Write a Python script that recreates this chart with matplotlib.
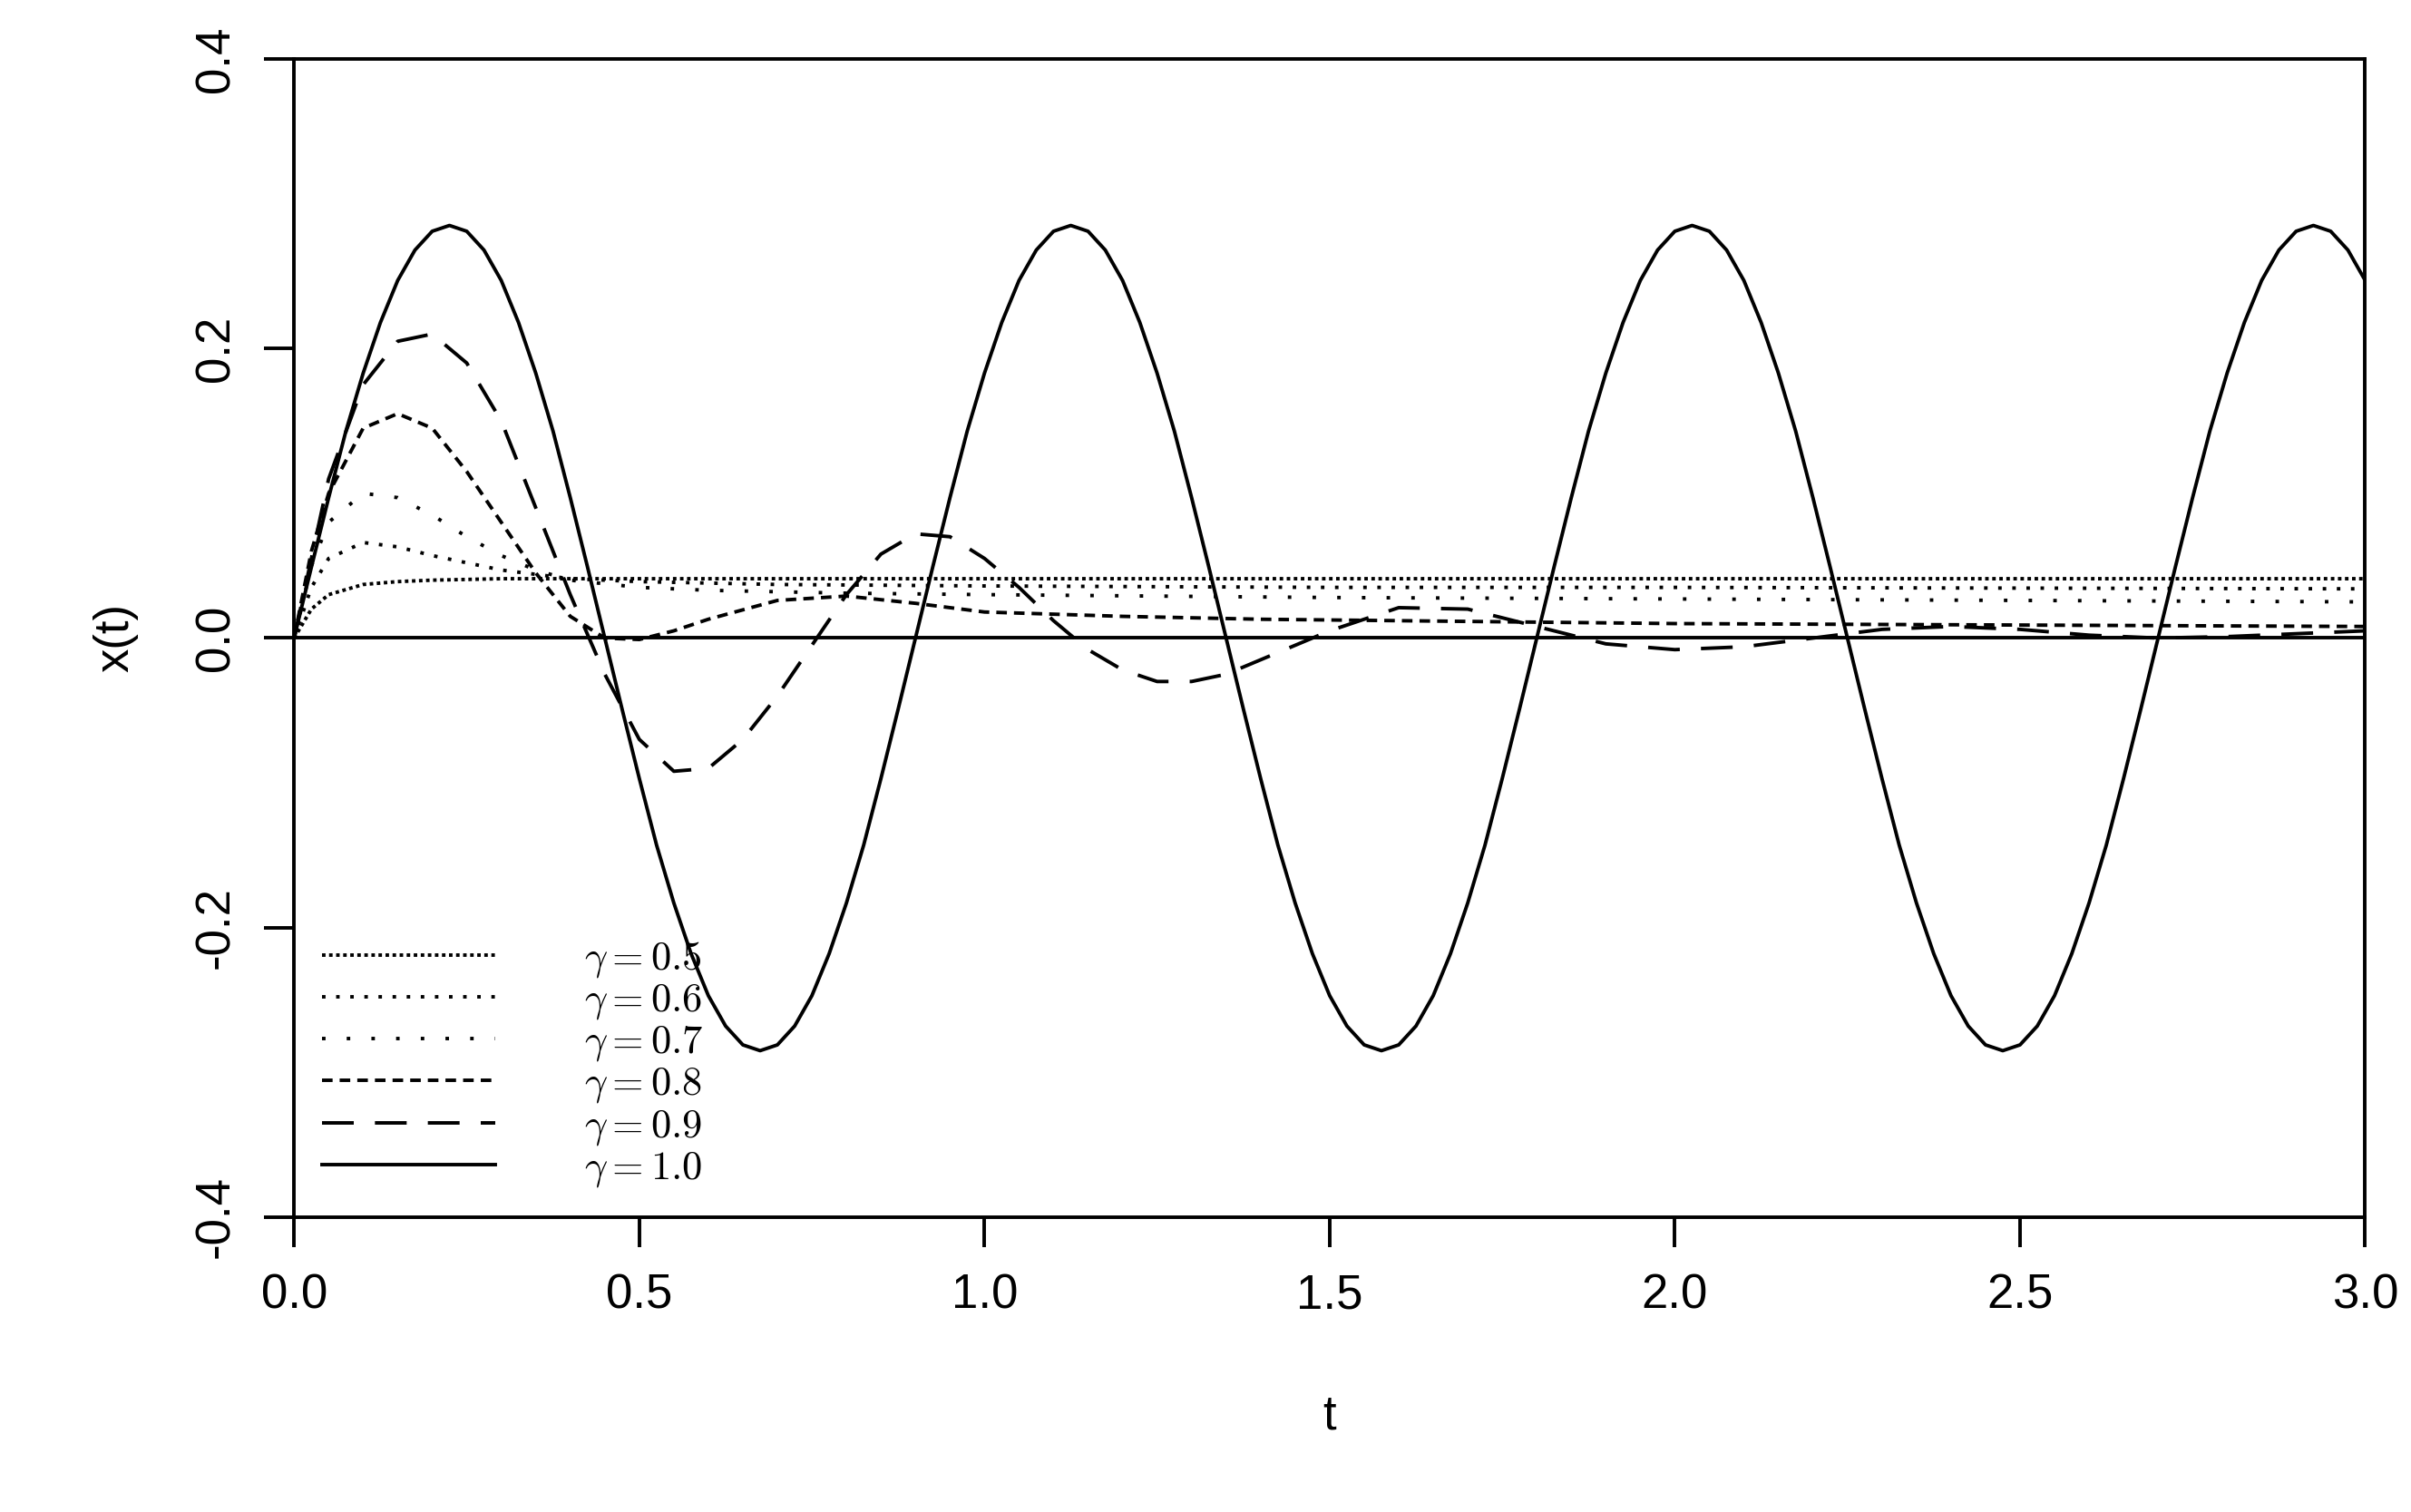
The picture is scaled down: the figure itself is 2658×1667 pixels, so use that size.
import matplotlib
matplotlib.use("Agg")
import matplotlib.pyplot as plt

plt.rcParams['font.family'] = ['Liberation Sans', 'DejaVu Sans']
plt.rcParams['mathtext.fontset'] = 'cm'

t10 = [i * 0.025 for i in range(121)]
x10 = [0, .049, .097, .143, .183, .218, .247, .268, .281, .285, .281, .268, .247, .218, .183, .143, .097, .049,
       0, -.049, -.097, -.143, -.183, -.218, -.247, -.268, -.281, -.285, -.281, -.268, -.247, -.218, -.183, -.143, -.097, -.049,
       0, .049, .097, .143, .183, .218, .247, .268, .281, .285, .281, .268, .247, .218, .183, .143, .097, .049,
       0, -.049, -.097, -.143, -.183, -.218, -.247, -.268, -.281, -.285, -.281, -.268, -.247, -.218, -.183, -.143, -.097, -.049,
       0, .049, .097, .143, .183, .218, .247, .268, .281, .285, .281, .268, .247, .218, .183, .143, .097, .049,
       0, -.049, -.097, -.143, -.183, -.218, -.247, -.268, -.281, -.285, -.281, -.268, -.247, -.218, -.183, -.143, -.097, -.049,
       0, .049, .097, .143, .183, .218, .247, .268, .281, .285, .281, .268, .247]

t09 = [0, 0.05, 0.1, 0.15, 0.2, 0.25, 0.3, 0.35, 0.4, 0.45, 0.5, 0.55, 0.6, 0.65, 0.7, 0.75, 0.8, 0.85, 0.9, 0.95,
       1.0, 1.05, 1.1, 1.15, 1.2, 1.25, 1.3, 1.35, 1.4, 1.5, 1.6, 1.7, 1.8, 1.9, 2.0, 2.1, 2.2, 2.3, 2.4, 2.5, 2.6, 2.7, 2.8, 2.9, 3.0]
x09 = [0, 0.11, 0.175, 0.205, 0.21, 0.19, 0.15, 0.09, 0.03, -0.025, -0.07, -0.092, -0.09, -0.07, -0.04, -0.005, 0.03, 0.058, 0.072, 0.07,
       0.055, 0.035, 0.012, -0.008, -0.022, -0.03, -0.03, -0.025, -0.015, 0.005, 0.021, 0.02, 0.008, -0.004, -0.008, -0.006, 0.0, 0.006, 0.008, 0.006, 0.002, 0.0, 0.001, 0.003, 0.005]

t08 = [0, 0.025, 0.05, 0.1, 0.15, 0.2, 0.25, 0.3, 0.35, 0.4, 0.45, 0.5, 0.55, 0.6, 0.7, 0.8, 0.9, 1.0, 1.2, 1.4, 1.6, 1.8, 2.0, 2.5, 3.0]
x08 = [0, 0.06, 0.1, 0.145, 0.155, 0.145, 0.115, 0.08, 0.045, 0.015, 0.0, -0.001, 0.005, 0.013, 0.026, 0.029, 0.024, 0.018, 0.015, 0.013, 0.012, 0.011, 0.010, 0.009, 0.008]

t07 = [0, 0.025, 0.05, 0.1, 0.15, 0.2, 0.25, 0.3, 0.35, 0.4, 0.5, 0.6, 0.8, 1.0, 1.5, 2.0, 2.5, 3.0]
x07 = [0, 0.05, 0.08, 0.1, 0.097, 0.085, 0.07, 0.057, 0.047, 0.04, 0.035, 0.033, 0.031, 0.03, 0.028, 0.027, 0.026, 0.025]

t06 = [0, 0.025, 0.05, 0.1, 0.15, 0.2, 0.3, 0.4, 0.5, 0.7, 1.0, 1.5, 2.0, 3.0]
x06 = [0, 0.035, 0.055, 0.066, 0.063, 0.057, 0.047, 0.041, 0.039, 0.037, 0.036, 0.035, 0.035, 0.034]

t05 = [0, 0.025, 0.05, 0.1, 0.15, 0.2, 0.3, 0.5, 1.0, 2.0, 3.0]
x05 = [0, 0.02, 0.03, 0.037, 0.039, 0.04, 0.041, 0.041, 0.041, 0.041, 0.041]

labels = [r'$\gamma = 0.5$', r'$\gamma = 0.6$', r'$\gamma = 0.7$', r'$\gamma = 0.8$', r'$\gamma = 0.9$', r'$\gamma = 1.0$']

fig = plt.figure(figsize=(13.29, 8.335), dpi=200)
ax = fig.add_axes([0.122, 0.195, 0.859, 0.766])
lw = 1.4
ax.plot(t05, x05, color='black', lw=lw, linestyle=(0, (1, 1)), label=labels[0])
ax.plot(t06, x06, color='black', lw=lw, linestyle=(0, (1, 3)), label=labels[1])
ax.plot(t07, x07, color='black', lw=lw, linestyle=(0, (1, 6)), label=labels[2])
ax.plot(t08, x08, color='black', lw=lw, linestyle=(0, (3, 2)), label=labels[3])
ax.plot(t09, x09, color='black', lw=lw, linestyle=(0, (9, 6)), label=labels[4])
ax.plot(t10, x10, color='black', lw=lw, linestyle='-', label=labels[5])
ax.axhline(0, color='black', lw=lw)

ax.set_xlim(0, 3)
ax.set_ylim(-0.4, 0.4)
ax.set_xticks([0, 0.5, 1.0, 1.5, 2.0, 2.5, 3.0])
ax.set_xticklabels(['0.0', '0.5', '1.0', '1.5', '2.0', '2.5', '3.0'])
ax.set_yticks([-0.4, -0.2, 0.0, 0.2, 0.4])
ax.set_yticklabels(['-0.4', '-0.2', '0.0', '0.2', '0.4'], rotation=90, va='center')
ax.tick_params(direction='out', length=12, width=1.4, labelsize=19, pad=10)
for s in ax.spines.values():
    s.set_linewidth(1.4)
ax.set_xlabel('t', fontsize=19, labelpad=30)
ax.set_ylabel('x(t)', fontsize=19, labelpad=22)

ax.legend(loc='lower left', frameon=False, fontsize=16, handlelength=4.3, handletextpad=2.2,
          labelspacing=0.05, borderaxespad=0.3, bbox_to_anchor=(0.0, 0.0))

fig.savefig('out.png', dpi=200)
